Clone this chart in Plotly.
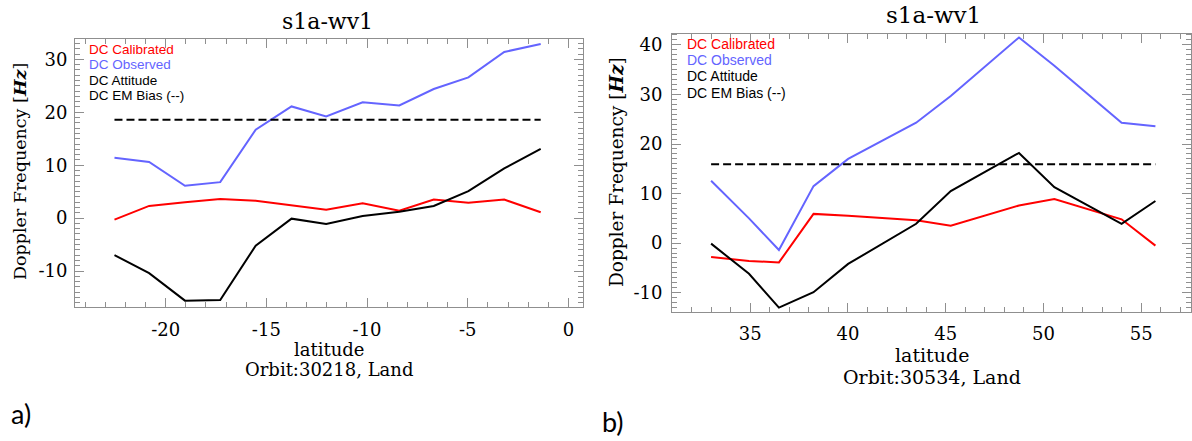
import plotly.graph_objects as go

W, H = 1192, 441

# ---- panel a: orbit 30218 ----
lat_a = [-22.54, -20.82, -19.04, -17.29, -15.53, -13.75, -12.03,
         -10.22, -8.40, -6.69, -4.97, -3.19, -1.38]
obs_a = [11.4, 10.6, 6.1, 6.8, 16.7, 21.1, 19.2, 21.9, 21.3, 24.4, 26.6, 31.4, 32.9]
cal_a = [-0.3, 2.3, 3.0, 3.6, 3.3, 2.5, 1.6, 2.8, 1.4, 3.5, 2.9, 3.5, 1.1]
att_a = [-7.0, -10.4, -15.6, -15.5, -5.2, -0.1, -1.1, 0.4, 1.2, 2.3, 5.1, 9.4, 13.1]
bias_a = 18.6
xticks_a = [-20, -15, -10, -5, 0]
yticks_a = [-10, 0, 10, 20, 30]

# ---- panel b: orbit 30534 ----
lat_b = [33.0, 34.94, 36.47, 38.24, 40.01, 43.49, 45.26, 48.75, 50.56, 54.0, 55.73]
obs_b = [12.6, 5.0, -1.4, 11.5, 17.0, 24.3, 29.7, 41.5, 35.8, 24.3, 23.6]
cal_b = [-2.8, -3.6, -3.9, 5.9, 5.5, 4.6, 3.5, 7.6, 8.9, 4.8, -0.5]
att_b = [-0.1, -6.2, -13.0, -9.9, -4.2, 3.9, 10.5, 18.2, 11.3, 3.9, 8.5]
bias_b = 15.9
xticks_b = [35, 40, 45, 50, 55]
yticks_b = [-10, 0, 10, 20, 30, 40]

RED = "rgb(255,0,0)"
BLUE = "rgb(100,100,255)"
BLACK = "black"
AXC = "#8f8f8f"
SERIF = "DejaVu Serif"
SANS = "Liberation Sans"


def px_x(px):
    return px / W


def px_y(px):
    return 1 - px / H


fig = go.Figure()


def add_panel(lat, obs, cal, att, bias, xa, ya):
    ref = dict(xaxis=xa, yaxis=ya)
    fig.add_trace(go.Scatter(x=lat, y=obs, mode="lines",
                             line=dict(color=BLUE, width=2), **ref))
    fig.add_trace(go.Scatter(x=lat, y=cal, mode="lines",
                             line=dict(color=RED, width=2), **ref))
    fig.add_trace(go.Scatter(x=lat, y=att, mode="lines",
                             line=dict(color=BLACK, width=2), **ref))
    fig.add_trace(go.Scatter(x=[lat[0], lat[-1]], y=[bias, bias], mode="lines",
                             line=dict(color=BLACK, width=2, dash="8px,4px"), **ref))


add_panel(lat_a, obs_a, cal_a, att_a, bias_a, "x", "y")
add_panel(lat_b, obs_b, cal_b, att_b, bias_b, "x2", "y2")


def axis_style(rng, dom, ticks, anchor, tick_font, standoff):
    # plain hyphen for negative labels, as in the plotting package's output
    return dict(
        range=rng, domain=dom, anchor=anchor,
        tickvals=ticks, ticktext=[str(t) for t in ticks],
        showgrid=False, zeroline=False,
        showline=True, linecolor=AXC, linewidth=1, mirror="ticks",
        ticks="inside", ticklen=9, tickcolor=AXC, tickwidth=1,
        minor=dict(dtick=1, tick0=0, ticks="inside", ticklen=5,
                   tickcolor=AXC, tickwidth=1),
        tickfont=dict(family=SERIF, size=tick_font, color="black"),
        ticklabelstandoff=standoff,
    )


# box edges in pixels
a_l, a_r, a_t, a_b = 75, 583, 39, 307
b_l, b_r, b_t, b_b = 672, 1191, 33.5, 312

fig.update_layout(
    width=W, height=H,
    margin=dict(l=0, r=0, t=0, b=0),
    paper_bgcolor="white", plot_bgcolor="white",
    showlegend=False,
    xaxis=axis_style([-24.5, 0.72], [px_x(a_l), px_x(a_r)], xticks_a, "y", 18, 6),
    yaxis=axis_style([-16.8, 33.85], [px_y(a_b), px_y(a_t)], yticks_a, "x", 18, 3),
    xaxis2=axis_style([31.0, 57.55], [px_x(b_l), px_x(b_r)], xticks_b, "y2", 18, 5),
    yaxis2=axis_style([-13.9, 42.3], [px_y(b_b), px_y(b_t)], yticks_b, "x2", 18, 5),
)


def note(text, x, y, size, family=SERIF, color="black", xanchor="center",
         yanchor="middle", angle=0):
    fig.add_annotation(text=text, x=px_x(x), y=px_y(y), xref="paper", yref="paper",
                       showarrow=False, xanchor=xanchor, yanchor=yanchor,
                       textangle=angle,
                       font=dict(family=family, size=size, color=color))


# titles
note("s1a-wv1", 327, 21, 22)
note("s1a-wv1", 933, 15, 23)

# axis titles
ytitle = "Doppler Frequency [<b><i>Hz</i></b>]"
note(ytitle, 20, 172, 17.5, angle=-90)
note(ytitle, 616, 172, 18.5, angle=-90)
note("latitude", 329, 349, 18)
note("Orbit:30218, Land", 329, 369, 18)
note("latitude", 932, 355, 19)
note("Orbit:30534, Land", 932, 377, 19)

# series labels
labels = ["DC Calibrated", "DC Observed", "DC Attitude", "DC EM Bias (--)"]
colors = [RED, BLUE, BLACK, BLACK]
for i, (t, c) in enumerate(zip(labels, colors)):
    note(t, 87, 49 + 15.5 * i, 13.5, family=SANS, color=c, xanchor="left")
    note(t, 685, 44 + 16.2 * i, 14, family=SANS, color=c, xanchor="left")

# panel letters
note("a)", 21, 413, 27, family="Lato")
note("b)", 613, 421, 27, family="Lato")

fig.write_html("out.html")
